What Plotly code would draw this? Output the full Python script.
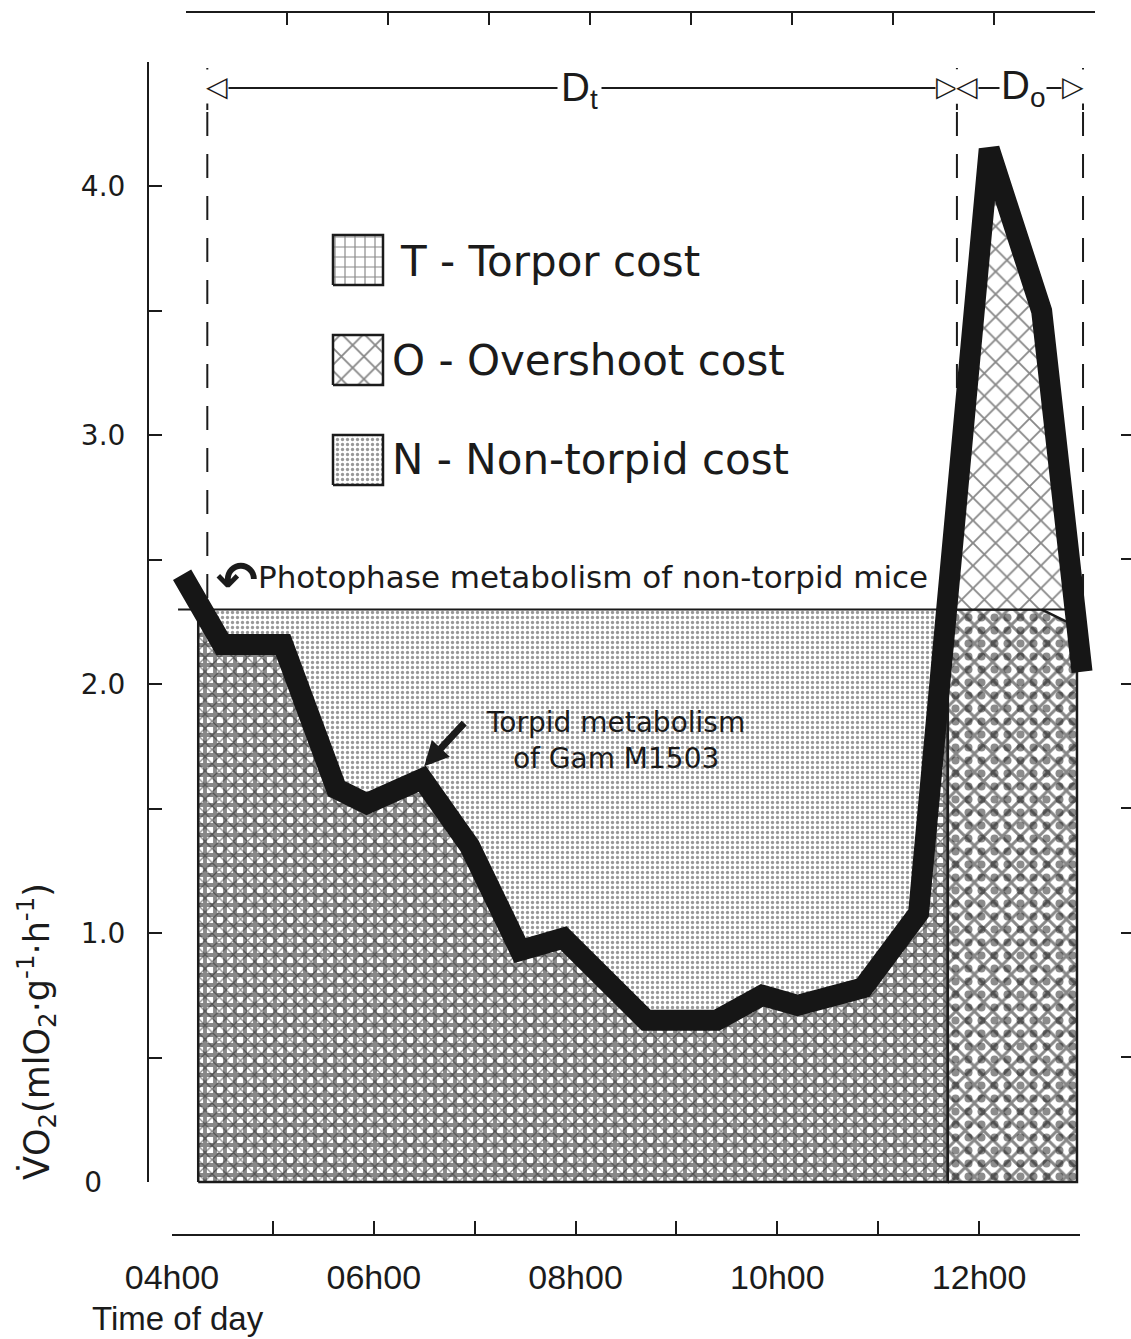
import numpy as np
import plotly.graph_objects as go

# ---------------- data ----------------
time_h = [4.10, 4.50, 5.10, 5.63, 5.93, 6.48, 6.95, 7.45, 7.88, 8.70, 9.40,
          9.85, 10.20, 10.85, 11.40, 12.10, 12.62, 13.02]
vo2 = [2.44, 2.16, 2.16, 1.58, 1.52, 1.62, 1.35, 0.93, 0.98, 0.65, 0.65,
       0.75, 0.71, 0.78, 1.08, 4.15, 3.50, 2.05]
photophase_vo2 = 2.30          # photophase metabolism of non-torpid mice
photophase_span = [4.06, 13.00]
torpor_start = 4.26             # start of shaded torpor area
torpor_end = 11.69              # T / O boundary
overshoot_end = 12.97
dt_bounds = [4.35, 11.78]       # D_t
do_bounds = [11.78, 13.03]      # D_o

y_ticks = [0, 1.0, 2.0, 3.0, 4.0]
y_ticktext = ["0\u2007\u2009", "1.0", "2.0", "3.0", "4.0"]
x_ticks = [4, 6, 8, 10, 12]
x_ticktext = ["04h00", "06h00", "08h00", "10h00", "12h00"]
legend_labels = ["T - Torpor cost", "O - Overshoot cost", "N - Non-torpid cost"]

# ---------------- geometry ----------------
W, H = 1131, 1339
X0PX, X13PX = 172, 1080      # pixel of 04h00 and 13h00
Y0PX, Y45PX = 1182, 62       # pixel of VO2 = 0 and 4.5
ppx = (X13PX - X0PX) / 9.0
ppy = (Y0PX - Y45PX) / 4.5
x_range = [4 - X0PX / ppx, 4 + (W - X0PX) / ppx]
y_range = [-(H - Y0PX) / ppy, Y0PX / ppy]

INK = "#1b1b1b"
REG = "DejaVu Sans"
ARIAL = "Liberation Sans, Arial, sans-serif"


def PX(px):
    return px / W


def PY(py):
    return 1 - py / H


t = np.array(time_h)
v = np.array(vo2)


def seg(a, b):
    inner = t[(t > a) & (t < b)]
    ts = np.concatenate([[a], inner, [b]])
    return ts, np.interp(ts, t, v)


pat_T = dict(shape="+", size=10, solidity=0.62, fgcolor="#111111", bgcolor="white")
pat_Tx = dict(shape="x", size=10, solidity=0.24, fgcolor="#1a1a1a", fillmode="overlay")
pat_N = dict(shape=".", size=5, solidity=0.34, fgcolor="#333333", bgcolor="white")
pat_O = dict(shape="x", size=16, solidity=0.22, fgcolor="#111111", bgcolor="white")
pat_Ol = dict(shape="x", size=13, solidity=0.4, fgcolor="#111111", bgcolor="white")
pat_Old = dict(shape=".", size=13, solidity=0.3, fgcolor="#1a1a1a", fillmode="overlay")

fig = go.Figure()

# T region
ts, vs = seg(torpor_start, torpor_end)
top = np.minimum(vs, photophase_vo2)
Tx = np.concatenate([[torpor_start], ts, [torpor_end, torpor_start]])
Ty = np.concatenate([[0], top, [0, 0]])
fig.add_trace(go.Scatter(x=Tx, y=Ty, fill="toself", mode="lines",
                         line=dict(color=INK, width=2.5), fillpattern=pat_T,
                         fillcolor="white", hoverinfo="skip"))
fig.add_trace(go.Scatter(x=Tx, y=Ty, fill="toself", mode="lines",
                         line=dict(width=0), fillpattern=pat_Tx,
                         fillcolor="rgba(0,0,0,0)", hoverinfo="skip"))

# N region
Nx = np.concatenate([[torpor_start, torpor_end], ts[::-1]])
Ny = np.concatenate([[photophase_vo2, photophase_vo2], top[::-1]])
fig.add_trace(go.Scatter(x=Nx, y=Ny, fill="toself", mode="lines",
                         line=dict(width=0), fillpattern=pat_N,
                         fillcolor="white", hoverinfo="skip"))

# O region (lower, below photophase level)
os_, ov = seg(torpor_end, overshoot_end)
low_top = np.minimum(ov, photophase_vo2)
OLx = np.concatenate([[torpor_end], os_, [overshoot_end, torpor_end]])
OLy = np.concatenate([[0], low_top, [0, 0]])
fig.add_trace(go.Scatter(x=OLx, y=OLy, fill="toself", mode="lines",
                         line=dict(color=INK, width=2.5), fillpattern=pat_Ol,
                         fillcolor="white", hoverinfo="skip"))
fig.add_trace(go.Scatter(x=OLx, y=OLy, fill="toself", mode="lines",
                         line=dict(width=0), fillpattern=pat_Old,
                         fillcolor="rgba(0,0,0,0)", hoverinfo="skip"))
# O region (upper)
up_top = np.maximum(ov, photophase_vo2)
OUx = np.concatenate([[torpor_end, overshoot_end], os_[::-1]])
OUy = np.concatenate([[photophase_vo2, photophase_vo2], up_top[::-1]])
fig.add_trace(go.Scatter(x=OUx, y=OUy, fill="toself", mode="lines",
                         line=dict(width=0), fillpattern=pat_O,
                         fillcolor="white", hoverinfo="skip"))

# photophase line
fig.add_trace(go.Scatter(x=photophase_span, y=[photophase_vo2] * 2, mode="lines",
                         line=dict(color=INK, width=2), hoverinfo="skip"))

# thick VO2 curve
fig.add_trace(go.Scatter(x=time_h, y=vo2, mode="lines",
                         line=dict(color="#161616", width=21), hoverinfo="skip"))

# dummy traces so that the decorative axes are drawn
for xa, ya in [("x2", "y"), ("x3", "y"), ("x", "y2"), ("x", "y3")]:
    fig.add_trace(go.Scatter(x=[None], y=[None], xaxis=xa, yaxis=ya,
                             mode="markers", hoverinfo="skip"))

# legend swatches on their own small axes
swatch_pats = [dict(shape="+", size=10, solidity=0.22, fgcolor="#111111", bgcolor="white"),
               pat_O, pat_N]
swatch_rows = [4, 2, 0]
for p, r in zip(swatch_pats, swatch_rows):
    fig.add_trace(go.Scatter(x=[0, 1, 1, 0, 0], y=[r, r, r + 1, r + 1, r],
                             xaxis="x4", yaxis="y4", fill="toself", mode="lines",
                             line=dict(color=INK, width=2.5), fillpattern=p,
                             fillcolor="white", hoverinfo="skip"))

axis_common = dict(showgrid=False, zeroline=False, linecolor=INK, linewidth=2,
                   tickcolor=INK, tickwidth=2, fixedrange=True)

fig.update_layout(
    width=W, height=H,
    margin=dict(l=0, r=0, t=0, b=0, pad=0, autoexpand=False),
    paper_bgcolor="white", plot_bgcolor="rgba(0,0,0,0)", showlegend=False,
    xaxis=dict(domain=[0, 1], range=x_range, visible=False, fixedrange=True),
    yaxis=dict(domain=[0, 1], range=y_range, visible=False, fixedrange=True),
    xaxis2=dict(domain=[PX(X0PX), PX(X13PX)], range=[4, 13], anchor="free",
                position=PY(1235), ticks="inside", ticklen=13, showline=True,
                tickmode="array", tickvals=x_ticks, ticktext=x_ticktext,
                minor=dict(dtick=1, tick0=4, ticks="inside", ticklen=13,
                           tickwidth=2, tickcolor=INK),
                tickfont=dict(family=ARIAL, size=34, color=INK),
                ticklabelstandoff=12, **axis_common),
    xaxis3=dict(domain=[PX(186), PX(1095)], range=[4, 13], anchor="free",
                position=PY(12), side="top", ticks="inside", ticklen=12,
                showline=True, dtick=1, tick0=4,
                showticklabels=False, **axis_common),
    yaxis2=dict(domain=[PY(Y0PX), PY(Y45PX)], range=[0, 4.5], anchor="free",
                position=PX(148), ticks="inside", ticklen=13, showline=True,
                tickmode="array", tickvals=y_ticks, ticktext=y_ticktext,
                minor=dict(dtick=0.5, tick0=0, ticks="inside", ticklen=13,
                           tickwidth=2, tickcolor=INK),
                tickfont=dict(family=REG, size=28, color=INK),
                ticklabelstandoff=16, **axis_common),
    yaxis3=dict(domain=[PY(Y0PX), PY(310)], range=[0, 3.5], anchor="free",
                position=1.0, side="right", ticks="inside", ticklen=10,
                showline=False, dtick=0.5, tick0=0,
                showticklabels=False, **axis_common),
    xaxis4=dict(domain=[PX(330), PX(386)], range=[-0.06, 1.06], visible=False,
                fixedrange=True),
    yaxis4=dict(domain=[PY(488), PY(232)], range=[-0.06, 5.06], visible=False,
                fixedrange=True),
)

shapes = []
arrow_y = PY(88)
# dashed vertical guides
for xv in [dt_bounds[0], dt_bounds[1], do_bounds[1]]:
    shapes.append(dict(type="line", xref="x", yref="paper", x0=xv, x1=xv,
                       y0=PY(112), y1=PY(606), layer="below",
                       line=dict(color=INK, width=2, dash="24px,18px")))
    shapes.append(dict(type="line", xref="x", yref="paper", x0=xv, x1=xv,
                       y0=PY(68), y1=PY(110),
                       line=dict(color=INK, width=2)))
# D arrows
for b in [dt_bounds, do_bounds]:
    shapes.append(dict(type="line", xref="x", yref="paper", x0=b[0], x1=b[1],
                       y0=arrow_y, y1=arrow_y, layer="below",
                       line=dict(color=INK, width=2)))
fig.update_layout(shapes=shapes)

ann = []
# D labels
ann.append(dict(x=np.mean(dt_bounds) - 0.03, y=PY(61), xref="x", yref="paper",
                text="D<sub>t</sub>", showarrow=False, bgcolor="white",
                xanchor="center", yanchor="top",
                font=dict(family=ARIAL, size=40, color=INK), borderpad=3))
ann.append(dict(x=np.mean(do_bounds) + 0.03, y=PY(61), xref="x", yref="paper",
                text="D<sub>o</sub>", showarrow=False, bgcolor="white",
                xanchor="center", yanchor="top",
                font=dict(family=ARIAL, size=40, color=INK), borderpad=1))
# arrow heads
for b in [dt_bounds, do_bounds]:
    ann.append(dict(x=b[0], y=arrow_y, xref="x", yref="paper", text="\u25c1",
                    xanchor="left", yanchor="middle", xshift=-2, yshift=2,
                    showarrow=False, bgcolor="white", borderpad=0,
                    font=dict(family=REG, size=28, color=INK)))
    ann.append(dict(x=b[1], y=arrow_y, xref="x", yref="paper", text="\u25b7",
                    xanchor="right", yanchor="middle", xshift=2, yshift=2,
                    showarrow=False, bgcolor="white", borderpad=0,
                    font=dict(family=REG, size=28, color=INK)))

# legend text
for lab, py in zip(legend_labels, [262, 360, 460]):
    ann.append(dict(x=PX(398 if lab.startswith("T") else 390), y=PY(py),
                    xref="paper", yref="paper", text=lab, xanchor="left",
                    yanchor="middle", showarrow=False,
                    font=dict(family=REG, size=42, color=INK)))

# photophase label and curled arrow
ann.append(dict(x=PX(256), y=PY(577), xref="paper", yref="paper",
                text="Photophase metabolism of non-torpid mice", xanchor="left",
                yanchor="middle", showarrow=False,
                font=dict(family=REG, size=31, color=INK)))
ann.append(dict(x=PX(237), y=PY(580), xref="paper", yref="paper",
                text="<b>\u21b6</b>", showarrow=False, xanchor="center",
                yanchor="middle", font=dict(family=REG, size=50, color=INK)))

# torpid metabolism label and arrow
ann.append(dict(x=PX(615), y=PY(740), xref="paper", yref="paper",
                text="Torpid metabolism<br>of Gam M1503", showarrow=False,
                xanchor="center", yanchor="middle",
                font=dict(family=REG, size=28, color=INK)))
ann.append(dict(x=time_h[5] + 0.02, y=vo2[5] + 0.05, xref="x", yref="y",
                ax=time_h[5] + 0.43, ay=vo2[5] + 0.23, axref="x", ayref="y",
                text="", showarrow=True, arrowhead=2, arrowsize=0.7,
                arrowwidth=7, arrowcolor=INK, standoff=0))

# axis titles
ann.append(dict(x=PX(36), y=PY(1032), xref="paper", yref="paper",
                text="V\u0307O<sub>2</sub>(mlO<sub>2</sub>\u00b7g<sup>-1</sup>\u00b7h<sup>-1</sup>)",
                textangle=-90, showarrow=False, xanchor="center", yanchor="middle",
                font=dict(family=REG, size=35, color=INK)))
ann.append(dict(x=PX(90), y=PY(1318), xref="paper", yref="paper",
                text="Time of day", xanchor="left", yanchor="middle",
                showarrow=False, font=dict(family=ARIAL, size=33, color=INK)))
fig.update_layout(annotations=ann)

fig.write_html("out.html")
